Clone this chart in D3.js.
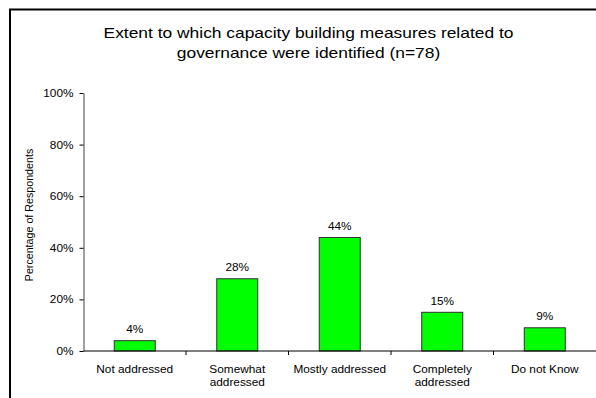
<!DOCTYPE html>
<html>
<head>
<meta charset="utf-8">
<script src="https://cdn.jsdelivr.net/npm/d3@7"></script>
<style>
  html, body { margin: 0; padding: 0; background: #fff; }
  svg { display: block; font-family: "Liberation Sans", Arial, sans-serif; }
</style>
</head>
<body>
<svg id="chart" width="596" height="398"></svg>
<script>
// Survey responses (percent of respondents, n=78)
const categories = [
  ["Not addressed"],
  ["Somewhat", "addressed"],
  ["Mostly addressed"],
  ["Completely", "addressed"],
  ["Do not Know"]
];
const percentages = [4, 28, 44, 15, 9];
const yTicks = [0, 20, 40, 60, 80, 100];
const titleLines = [
  "Extent to which capacity building measures related to",
  "governance were identified (n=78)"
];
const yAxisTitle = "Percentage of Respondents";

const svg = d3.select("#chart");
const W = 596, H = 398;
const plot = { left: 83.5, right: 596, top: 93, bottom: 351 };
const STRETCH = 1.16;   // text is set slightly wide

// Places a horizontally widened text at (x, y)
function wideText(sel, x, y) {
  return sel.attr("transform", `translate(${x},${y}) scale(${STRETCH},1)`);
}

// Outer frame (left and top edges visible)
svg.append("path")
  .attr("d", `M10,${H} L10,9.5 L${W},9.5`)
  .attr("fill", "none")
  .attr("stroke", "#000")
  .attr("stroke-width", 2);

// Title
svg.append("g").selectAll("text")
  .data(titleLines)
  .join("text")
  .each(function(d, i) { wideText(d3.select(this), 308.5, 38 + i * 20); })
  .attr("text-anchor", "middle")
  .attr("font-size", 15)
  .attr("fill", "#000")
  .text(d => d);

const x = d3.scaleBand()
  .domain(d3.range(categories.length))
  .range([plot.left, plot.right])
  .paddingInner(0.6)
  .paddingOuter(0.3);

const y = d3.scaleLinear()
  .domain([0, 100])
  .range([plot.bottom, plot.top]);

// Y axis
const yAxis = svg.append("g")
  .attr("transform", `translate(${plot.left},0)`)
  .call(d3.axisLeft(y).tickValues(yTicks).tickFormat(d => d + "%").tickSize(4).tickSizeOuter(0));
yAxis.select(".domain").attr("stroke", "#808080").attr("stroke-width", 1.5);
yAxis.selectAll(".tick line").attr("stroke", "#000");
yAxis.selectAll(".tick text")
  .attr("font-family", "Liberation Sans, Arial, sans-serif")
  .attr("font-size", 10.2)
  .attr("fill", "#000")
  .attr("x", -10 / STRETCH)
  .attr("dy", "0.34em")
  .attr("transform", `scale(${STRETCH},1)`);

// Y axis title
svg.append("text")
  .attr("transform", "translate(33,215) rotate(-90)")
  .attr("text-anchor", "middle")
  .attr("font-size", 10.7)
  .attr("fill", "#000")
  .text(yAxisTitle);

// Bars
svg.append("g").selectAll("rect")
  .data(percentages)
  .join("rect")
  .attr("x", (d, i) => x(i))
  .attr("y", d => y(d))
  .attr("width", x.bandwidth())
  .attr("height", d => y(0) - y(d))
  .attr("fill", "#00ff00")
  .attr("stroke", "#303030")
  .attr("stroke-width", 1);

// Value labels
svg.append("g").selectAll("text")
  .data(percentages)
  .join("text")
  .each(function(d, i) { wideText(d3.select(this), x(i) + x.bandwidth() / 2, y(d) - 7.5); })
  .attr("text-anchor", "middle")
  .attr("font-size", 10.2)
  .attr("fill", "#000")
  .text(d => d + "%");

// X axis baseline with ticks between categories
const step = x.step();
const xAxisG = svg.append("g");
xAxisG.append("line")
  .attr("x1", plot.left).attr("x2", plot.right)
  .attr("y1", plot.bottom).attr("y2", plot.bottom)
  .attr("stroke", "#000").attr("stroke-width", 1.2);
xAxisG.selectAll("line.tick")
  .data(d3.range(1, categories.length))
  .join("line")
  .attr("class", "tick")
  .attr("x1", i => plot.left + i * step)
  .attr("x2", i => plot.left + i * step)
  .attr("y1", plot.bottom).attr("y2", plot.bottom + 4)
  .attr("stroke", "#000");

// Category labels
xAxisG.selectAll("text.cat")
  .data(categories)
  .join("text")
  .attr("class", "cat")
  .each(function(d, i) { wideText(d3.select(this), x(i) + x.bandwidth() / 2, 372.5); })
  .attr("text-anchor", "middle")
  .attr("font-size", 10.2)
  .attr("fill", "#000")
  .selectAll("tspan")
  .data(d => d)
  .join("tspan")
  .attr("x", 0)
  .attr("dy", (d, i) => i === 0 ? 0 : 14)
  .text(d => d);
</script>
</body>
</html>
